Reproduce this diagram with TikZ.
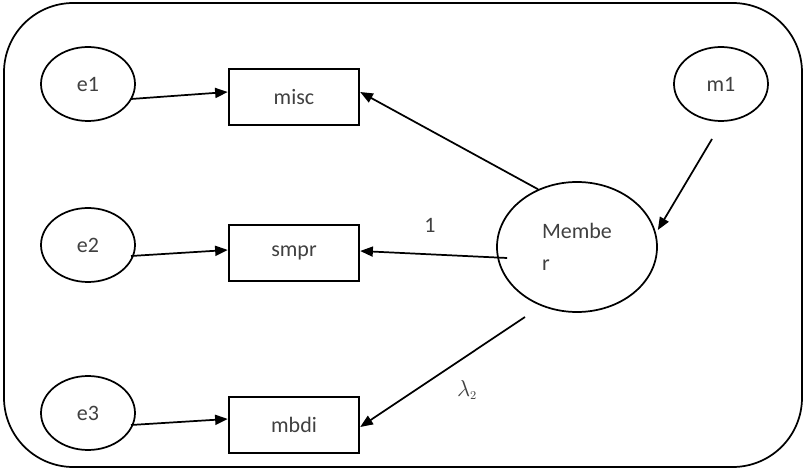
\documentclass[tikz,border=0pt]{standalone}
\usepackage{fontspec}
\setmainfont{Carlito}
\usetikzlibrary{arrows.meta,shapes.geometric}
\tikzset{
  latent/.style={draw, ellipse, line width=1.3pt, minimum width=70.5pt, minimum height=55.5pt, inner sep=0pt, text=black!75},
  indicator/.style={draw, rectangle, line width=1.3pt, minimum width=98pt, minimum height=41.5pt, inner sep=0pt, text=black!75},
  path/.style={line width=1.3pt, -{Triangle[length=9.5pt,width=7.5pt]}},
  tag/.style={text=black!75, inner sep=0pt}
}
\begin{document}
\begin{tikzpicture}[x=0.75pt, y=-0.75pt, font=\fontsize{16.5}{20}\selectfont]
\useasboundingbox (0,0) rectangle (804,470);
% frame around the model
\draw[line width=1.3pt, rounded corners=52pt] (4,3) rectangle (802,467);

% error terms
\node[latent] (e1) at (88,84) {e1};
\node[latent] (e2) at (88,245) {e2};
\node[latent] (e3) at (88,413) {e3};
\node[latent] (m1) at (721,84) {m1};

% observed indicators
\node[indicator] (misc) at (294,97) {misc};
\node[indicator] (smpr) at (294,253) {smpr};
\node[indicator] (mbdi) at (294,425) {mbdi};

% latent factor
\node[latent, minimum width=120pt, minimum height=97.5pt, align=left] (member) at (577,247) {Membe\\[4pt]r\hspace{2.7em}};

% error paths
\draw[path] ([shift={(43,15)}]e1.center) -- ([yshift=3.75pt]misc.west);
\draw[path] ([shift={(43,11)}]e2.center) -- ([yshift=2.25pt]smpr.west);
\draw[path] ([shift={(43,12)}]e3.center) -- ([yshift=4.5pt]mbdi.west);

% loadings
\draw[path] (member.124) -- ([yshift=3.75pt]misc.east);
\draw[path] ([shift={(11,11)}]member.west) -- ([yshift=1.5pt]smpr.east);
\draw[path] ([shift={(-52,70)}]member.center) -- ([yshift=-1.5pt]mbdi.east);
\draw[path] ([shift={(-9,55)}]m1.center) -- ([yshift=12.75pt]member.east);

% loading labels
\node[tag] (one) at (430,225) {1};
\node[tag, font=\fontsize{19}{20}\selectfont] (lam) at (467,390) {$\lambda_{\scriptscriptstyle 2}$};
\end{tikzpicture}
\end{document}
